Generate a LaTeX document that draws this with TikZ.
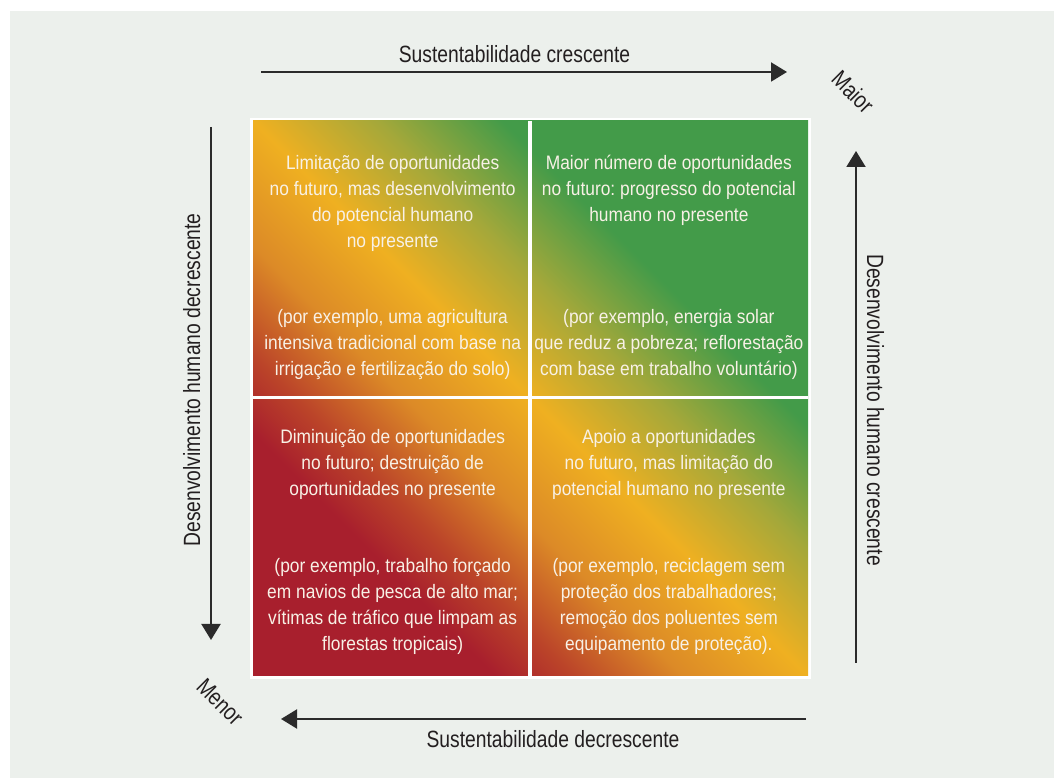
\documentclass[tikz,border=0pt]{standalone}
\usepackage{fontspec}
\setmainfont{Liberation Sans}
\newfontfamily\quadfont{Liberation Sans}[FakeStretch=0.89]
\newfontfamily\axisfont{Liberation Sans}[FakeStretch=0.82]
\usetikzlibrary{arrows.meta,calc}
\frenchspacing
\definecolor{bggrey}{HTML}{ECF0EC}
\definecolor{qred}{HTML}{A81F2D}
\definecolor{qbrick}{HTML}{BB4429}
\definecolor{qorange}{HTML}{DC8A27}
\definecolor{qyellow}{HTML}{EFB021}
\definecolor{qolive}{HTML}{A4A83A}
\definecolor{qgreen}{HTML}{439B49}
\definecolor{qtext}{HTML}{F8F1E6}
\definecolor{axtext}{HTML}{231F20}
\definecolor{arrowgrey}{HTML}{2B2B2B}
\pgfdeclarehorizontalshading{quadshade}{100bp}{color(0bp)=(qred); color(30bp)=(qred); color(35bp)=(qbrick); color(42bp)=(qorange); color(50bp)=(qyellow); color(58bp)=(qolive); color(66bp)=(qgreen); color(100bp)=(qgreen)}
\tikzset{
  quadcell/.style={rectangle, draw=none, inner sep=0pt},
  quadtxt/.style={anchor=north, inner sep=0pt, align=center, text=qtext, font=\quadfont\fontsize{19.5}{26}\selectfont\frenchspacing},
  axlabel/.style={inner sep=0pt, text=axtext, font=\axisfont\fontsize{23.5}{28}\selectfont},
  axarrow/.style={draw=arrowgrey, line width=2pt, -{Triangle[length=16pt,width=19pt]}}
}
\begin{document}
\begin{tikzpicture}[x=1pt,y=1pt]
\useasboundingbox (0,0) rectangle (1054,778);
\fill[white] (0,0) rectangle (1054,778);
\fill[bggrey] (10,0) rectangle (1054,767);
% grid
\fill[white] (250,660) rectangle (811,99);
\shade[shading=quadshade, shading angle=45] (253,657) rectangle (808,102);
\draw[white, line width=3.4pt] (530,657) -- (530,102);
\draw[white, line width=3.4pt] (253,380.3) -- (808,380.3);
% quadrant cells
\node[quadcell, minimum width=275.3pt, minimum height=275pt] (tl) at (390.65,519.5) {};
\node[quadcell, minimum width=276.3pt, minimum height=275pt] (tr) at (669.85,519.5) {};
\node[quadcell, minimum width=275.3pt, minimum height=276.6pt] (bl) at (390.65,240.3) {};
\node[quadcell, minimum width=276.3pt, minimum height=276.6pt] (br) at (669.85,240.3) {};
% texts
\node[quadtxt] (tlh) at ($(tl.north)+(2,-30.8)$) {\strut Limitação de oportunidades\\no futuro, mas desenvolvimento\\do potencial humano\\no presente};
\node[quadtxt] (tle) at ($(tl.north)+(2,-184.8)$) {\strut(por exemplo, uma agricultura\\intensiva tradicional com base na\\irrigação e fertilização do solo)};
\node[quadtxt] (trh) at ($(tr.north)+(-1,-30.8)$) {\strut Maior número de oportunidades\\no futuro: progresso do potencial\\humano no presente};
\node[quadtxt] (tre) at ($(tr.north)+(-1,-184.8)$) {\strut(por exemplo, energia solar\\que reduz a pobreza; reflorestação\\com base em trabalho voluntário)};
\node[quadtxt] (blh) at ($(bl.north)+(2,-26.4)$) {\strut Diminuição de oportunidades\\no futuro; destruição de\\oportunidades no presente};
\node[quadtxt] (ble) at ($(bl.north)+(2,-155.1)$) {\strut(por exemplo, trabalho forçado\\em navios de pesca de alto mar;\\vítimas de tráfico que limpam as\\florestas tropicais)};
\node[quadtxt] (brh) at ($(br.north)+(-1,-26.4)$) {\strut Apoio a oportunidades\\no futuro, mas limitação do\\potencial humano no presente};
\node[quadtxt] (bre) at ($(br.north)+(-1,-155.1)$) {\strut(por exemplo, reciclagem sem\\proteção dos trabalhadores;\\remoção dos poluentes sem\\equipamento de proteção).};
% arrows
\coordinate (topS) at (261,706);
\coordinate (topE) at (787,706);
\coordinate (leftS) at (211,651);
\coordinate (leftE) at (211,138);
\coordinate (rightS) at (856,115);
\coordinate (rightE) at (856,627);
\coordinate (botS) at (806,59);
\coordinate (botE) at (281,59);
\draw[axarrow] (topS) -- (topE);
\draw[axarrow] (leftS) -- (leftE);
\draw[axarrow] (rightS) -- (rightE);
\draw[axarrow] (botS) -- (botE);
% axis labels
\node[axlabel, anchor=base] (lbtop) at (514.5,715.7) {Sustentabilidade crescente};
\node[axlabel, anchor=base] (lbbot) at (553,30.5) {Sustentabilidade decrescente};
\node[axlabel, anchor=base, rotate=90] (lbleft) at (200,398) {Desenvolvimento humano decrescente};
\node[axlabel, anchor=base, rotate=-90] (lbright) at (867,368) {Desenvolvimento humano crescente};
\node[axlabel, rotate=-45] (lbmaior) at (853,686) {Maior};
\node[axlabel, rotate=-45] (lbmenor) at (220,76) {Menor};
\end{tikzpicture}
\end{document}
